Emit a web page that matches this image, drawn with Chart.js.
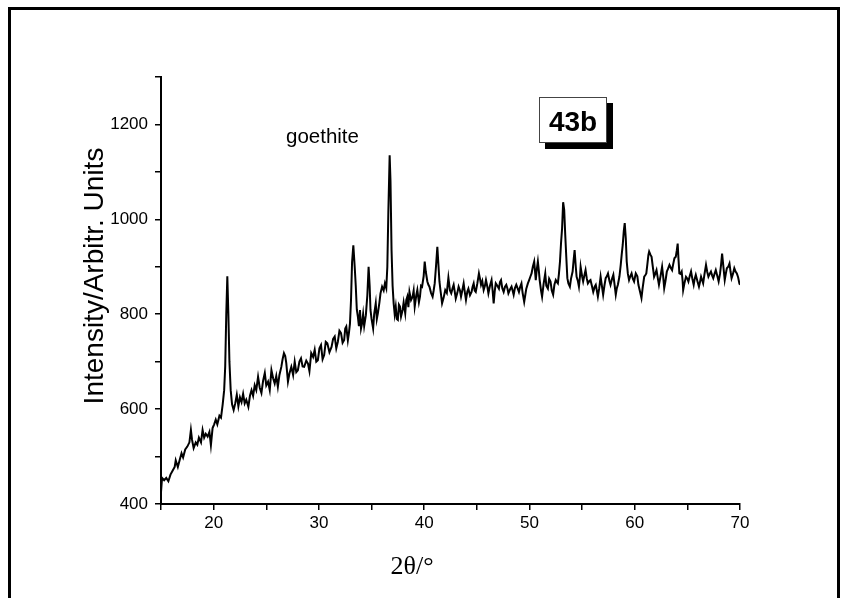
<!DOCTYPE html>
<html>
<head>
<meta charset="utf-8">
<script src="https://cdn.jsdelivr.net/npm/chart.js@4/dist/chart.umd.min.js"></script>
<style>
  html, body { margin: 0; padding: 0; background: #fff; }
  #wrap { position: relative; width: 848px; height: 598px; overflow: hidden; }
  #frame {
    position: absolute; left: 8px; top: 7px; width: 832px; height: 620px;
    border: 3px solid #000; border-bottom: none; box-sizing: border-box;
  }
  #xrd { position: absolute; left: 0; top: 0; }
</style>
</head>
<body>
<div id="wrap">
  <div id="frame"></div>
  <canvas id="xrd" width="848" height="598"></canvas>
</div>
<script>
/* XRD scan, sample 43b — [2θ (deg), intensity (arb. units)] */
const scan15to24 = [
  [15.0,425],[15.1,455],[15.3,450],[15.5,455],[15.7,448],[15.9,462],[16.1,470],[16.3,478],
  [16.4,492],[16.6,478],[16.8,495],[16.95,507],[17.1,498],[17.3,515],[17.5,521],[17.7,530],
  [17.84,556],[17.95,535],[18.1,518],[18.3,530],[18.45,525],[18.6,540],[18.8,530],[18.95,556],
  [19.1,540],[19.25,548],[19.43,542],[19.6,552],[19.74,524],[19.9,560],[20.05,568],[20.2,578],
  [20.35,568],[20.55,586],[20.7,582],[20.86,610],[21.0,640],[21.1,690],[21.2,800],[21.3,880],
  [21.4,800],[21.5,700],[21.62,640],[21.75,610],[21.9,598],[22.05,612],[22.2,630],[22.35,606],
  [22.5,625],[22.65,615],[22.8,632],[22.95,612],[23.1,620],[23.3,605],[23.45,628],[23.6,640],
  [23.75,628],[23.9,650]
];
const scan24to33 = [
  [24.05,640],[24.22,668],[24.38,645],[24.54,634],[24.7,660],[24.86,676],[25.0,650],[25.17,658],
  [25.33,640],[25.49,682],[25.65,665],[25.8,654],[25.95,670],[26.1,647],[26.25,672],[26.43,689],
  [26.55,705],[26.68,718],[26.8,712],[26.9,697],[27.06,658],[27.2,675],[27.38,689],[27.55,672],
  [27.7,700],[27.85,678],[28.0,682],[28.15,700],[28.3,707],[28.45,690],[28.6,689],[28.8,702],
  [28.96,696],[29.1,680],[29.27,718],[29.45,710],[29.6,725],[29.75,700],[29.9,703],[30.05,728],
  [30.2,735],[30.35,705],[30.5,714],[30.65,742],[30.8,739],[31.0,720],[31.2,731],[31.35,748],
  [31.5,753],[31.65,728],[31.8,742],[31.95,765],[32.1,760],[32.25,740],[32.4,746],[32.5,770],
  [32.6,774],[32.75,745],[32.85,760],[32.95,780]
];
const scan33to42 = [
  [33.05,830],[33.15,910],[33.27,945],[33.4,900],[33.5,860],[33.6,810],[33.7,795],[33.8,775],
  [33.9,809],[34.0,770],[34.1,781],[34.2,800],[34.3,775],[34.46,798],[34.6,840],[34.72,900],
  [34.82,860],[34.9,809],[35.0,790],[35.15,770],[35.25,800],[35.4,823],[35.5,790],[35.6,802],
  [35.75,825],[35.85,844],[36.0,858],[36.15,850],[36.27,865],[36.4,855],[36.5,900],[36.6,1020],
  [36.72,1135],[36.8,1080],[36.9,935],[37.0,860],[37.1,823],[37.2,800],[37.3,816],[37.4,790],
  [37.5,788],[37.6,820],[37.7,816],[37.8,795],[37.95,809],[38.05,825],[38.2,802],[38.3,830],
  [38.4,837],[38.5,815],[38.6,847],[38.75,830],[38.9,837],[39.0,850],[39.1,816],[39.25,840],
  [39.35,851],[39.5,825],[39.6,837],[39.7,860],[39.8,858],[39.95,880],[40.05,911],[40.15,890],
  [40.3,869],[40.4,862],[40.5,858],[40.65,845],[40.8,837],[40.9,850],[41.0,865],[41.12,900],
  [41.25,942],[41.35,905],[41.45,869],[41.55,850],[41.7,823],[41.85,835],[42.0,851],[42.15,845]
];
const scan42to51 = [
  [42.3,877],[42.45,850],[42.57,844],[42.7,855],[42.8,862],[42.9,848],[43.0,833],[43.15,845],
  [43.27,858],[43.4,850],[43.5,837],[43.62,850],[43.75,865],[43.87,845],[43.97,830],[44.1,848],
  [44.2,854],[44.35,840],[44.5,847],[44.6,858],[44.7,865],[44.8,850],[44.9,847],[45.05,865],
  [45.2,886],[45.3,875],[45.4,862],[45.52,870],[45.65,851],[45.77,860],[45.87,872],[46.0,858],
  [46.1,844],[46.25,860],[46.4,872],[46.5,850],[46.6,823],[46.7,848],[46.8,865],[46.95,860],
  [47.1,854],[47.2,868],[47.3,872],[47.42,855],[47.55,847],[47.68,858],[47.8,862],[47.9,855],
  [48.0,844],[48.15,852],[48.3,858],[48.4,850],[48.5,841],[48.62,855],[48.75,862],[48.87,855],
  [49.0,847],[49.12,858],[49.24,865],[49.35,845],[49.5,826],[49.6,840],[49.7,854],[49.85,865],
  [49.97,872],[50.1,880],[50.2,886],[50.32,900],[50.45,911],[50.55,885],[50.6,872],[50.7,895],
  [50.8,911],[50.9,890],[50.97,872],[51.1,850],[51.2,837],[51.35,865],[51.5,886]
];
const scan51to60 = [
  [51.6,860],[51.75,854],[51.87,875],[52.0,869],[52.12,850],[52.25,841],[52.37,862],[52.5,872],
  [52.6,868],[52.7,865],[52.8,885],[52.9,911],[53.0,950],[53.1,981],[53.2,1036],[53.3,1020],
  [53.4,967],[53.5,920],[53.6,876],[53.7,865],[53.84,858],[53.95,875],[54.1,890],[54.2,915],
  [54.29,935],[54.4,900],[54.48,879],[54.6,870],[54.7,858],[54.8,880],[54.86,900],[55.0,880],
  [55.1,869],[55.2,880],[55.33,893],[55.45,875],[55.55,865],[55.7,870],[55.8,872],[55.93,860],
  [56.06,847],[56.2,858],[56.3,862],[56.4,850],[56.5,837],[56.63,855],[56.76,879],[56.88,860],
  [57.0,841],[57.12,860],[57.24,876],[57.35,880],[57.46,886],[57.6,870],[57.7,862],[57.85,875],
  [57.97,883],[58.1,860],[58.2,841],[58.3,855],[58.4,862],[58.55,880],[58.67,904],[58.76,925],
  [58.86,946],[58.96,975],[59.05,992],[59.15,960],[59.24,911],[59.35,885],[59.46,872],[59.58,880],
  [59.7,886],[59.82,875],[59.94,869],[60.1,886],[60.25,880]
];
const scan60to70 = [
  [60.35,862],[60.5,848],[60.64,834],[60.75,855],[60.9,879],[61.0,882],[61.1,886],[61.2,905],
  [61.3,925],[61.37,932],[61.5,925],[61.6,921],[61.72,900],[61.84,879],[61.95,885],[62.07,893],
  [62.2,875],[62.3,862],[62.45,880],[62.6,900],[62.7,880],[62.8,855],[62.92,870],[63.05,890],
  [63.15,895],[63.3,904],[63.42,898],[63.55,893],[63.65,905],[63.77,918],[63.9,921],[64.0,935],
  [64.08,949],[64.16,915],[64.24,886],[64.35,885],[64.46,890],[64.55,870],[64.6,851],[64.72,865],
  [64.87,879],[65.0,875],[65.1,869],[65.22,880],[65.35,890],[65.47,875],[65.6,862],[65.7,875],
  [65.8,883],[65.95,870],[66.1,858],[66.2,868],[66.3,879],[66.4,872],[66.5,865],[66.63,885],
  [66.77,904],[66.88,890],[67.0,879],[67.12,885],[67.24,890],[67.35,882],[67.46,876],[67.58,885],
  [67.7,893],[67.85,880],[67.97,869],[68.1,885],[68.2,904],[68.3,928],[68.4,905],[68.55,872],
  [68.65,885],[68.75,897],[68.88,900],[69.0,907],[69.1,890],[69.2,876],[69.33,885],[69.46,897],
  [69.58,890],[69.7,886],[69.82,878],[69.94,865],[70.0,862]
];

const xTicksLabelled = [20, 30, 40, 50, 60, 70];
const yTicksLabelled = [400, 600, 800, 1000, 1200];

const points = [scan15to24, scan24to33, scan33to42, scan42to51, scan51to60, scan60to70]
  .flat()
  .map(([x, y]) => ({ x, y }));

const SANS = '"Liberation Sans", Arial, sans-serif';
const SERIF = '"Liberation Serif", "Times New Roman", serif';

// titles, phase label and the boxed sample tag
const textLayer = {
  id: 'textLayer',
  afterDraw(chart) {
    const c = chart.ctx;
    c.save();
    c.fillStyle = '#000';

    // y title, rotated
    c.save();
    c.translate(95, 276);
    c.rotate(-Math.PI / 2);
    c.font = `28px ${SANS}`;
    c.textAlign = 'center';
    c.textBaseline = 'middle';
    c.fillText('Intensity/Arbitr. Units', 0, 0);
    c.restore();

    // x title
    c.font = `26px ${SERIF}`;
    c.textAlign = 'center';
    c.textBaseline = 'alphabetic';
    c.fillText('2θ/°', 412, 574);

    // phase label
    c.font = `20.5px ${SANS}`;
    c.textAlign = 'left';
    c.fillText('goethite', 286, 143);

    // sample tag with drop shadow
    c.fillStyle = '#000';
    c.fillRect(545, 103, 68, 46);
    c.fillStyle = '#fff';
    c.fillRect(539, 97, 68, 46);
    c.strokeStyle = '#444';
    c.lineWidth = 1;
    c.strokeRect(539.5, 97.5, 67, 45);
    c.fillStyle = '#000';
    c.font = `bold 28px ${SANS}`;
    c.textAlign = 'center';
    c.fillText('43b', 573, 131);

    c.restore();
  }
};

new Chart(document.getElementById('xrd'), {
  type: 'line',
  data: {
    datasets: [{
      data: points,
      borderColor: '#000',
      borderWidth: 2,
      pointRadius: 0,
      tension: 0,
      fill: false
    }]
  },
  options: {
    responsive: false,
    devicePixelRatio: 1,
    animation: false,
    layout: { padding: { left: 0, right: 108, top: 77, bottom: 0 } },
    plugins: { legend: { display: false }, tooltip: { enabled: false } },
    scales: {
      x: {
        type: 'linear',
        min: 15, max: 70,
        afterFit: s => { s.height = 94; },
        border: { display: true, color: '#000', width: 2 },
        grid: { drawOnChartArea: false, drawTicks: true, tickLength: 6, color: '#000', lineWidth: 1.5 },
        ticks: {
          stepSize: 5, autoSkip: false, maxRotation: 0, padding: 3,
          color: '#000', font: { family: SANS, size: 17 },
          callback: v => xTicksLabelled.includes(v) ? String(v) : ''
        }
      },
      y: {
        min: 400, max: 1300,
        afterFit: s => { s.width = 161; },
        border: { display: true, color: '#000', width: 2 },
        grid: { drawOnChartArea: false, drawTicks: true, tickLength: 6, color: '#000', lineWidth: 1.5 },
        ticks: {
          stepSize: 100, autoSkip: false, padding: 7,
          color: '#000', font: { family: SANS, size: 17 },
          callback: v => yTicksLabelled.includes(v) ? String(v) : ''
        }
      }
    }
  },
  plugins: [textLayer]
});
</script>
</body>
</html>
